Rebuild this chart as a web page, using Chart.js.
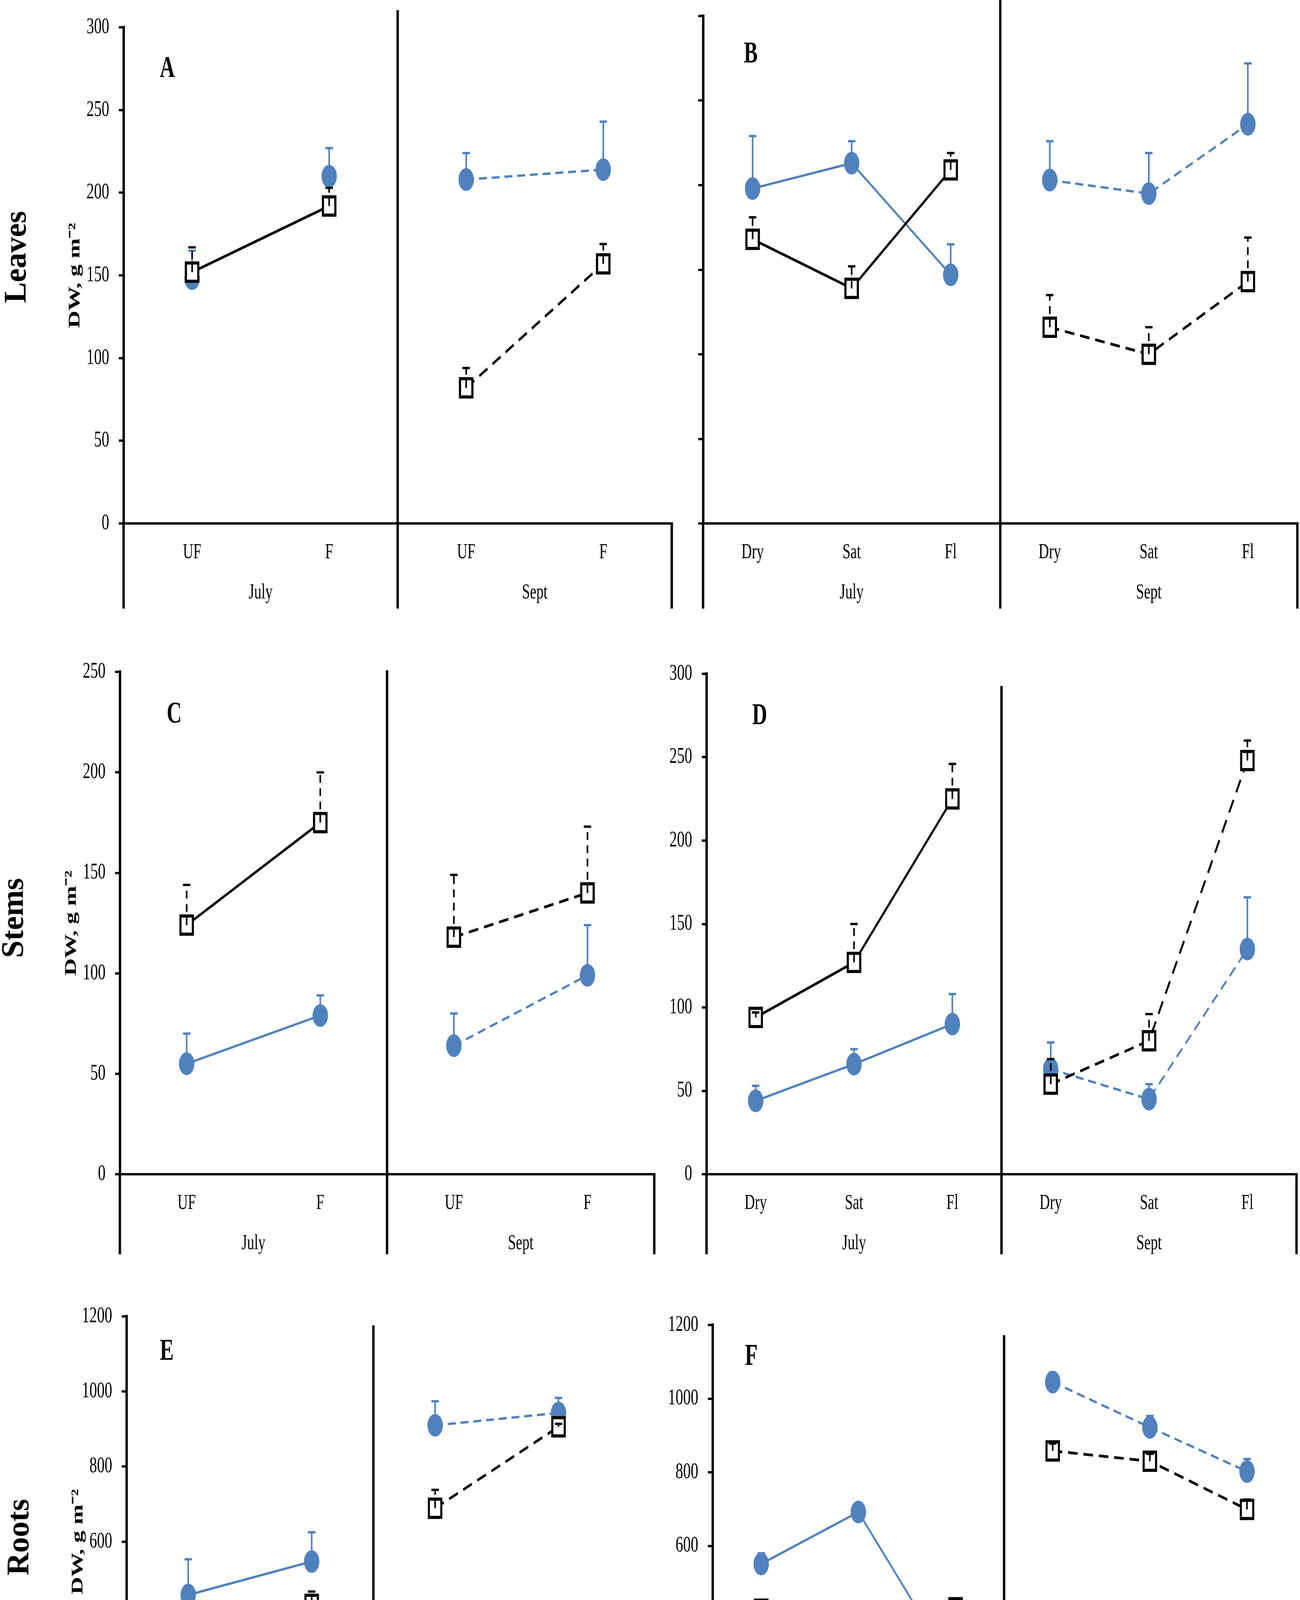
<!DOCTYPE html>
<html>
<head>
<meta charset="utf-8">
<script src="https://cdn.jsdelivr.net/npm/chart.js@4.4.1/dist/chart.umd.min.js"></script>
<style>
  html, body { margin: 0; padding: 0; background: #fff; }
  body { width: 3327px; height: 4801px; position: relative; overflow: hidden; }
  /* the original figure is squeezed horizontally, so draw wide and scale x */
  #squeeze { position: absolute; left: 0; top: 0; width: 4893px; height: 4801px;
             transform: scaleX(0.68); transform-origin: 0 0; }
  .panel { position: absolute; }
  .row-label { position: absolute; font-family: 'Liberation Serif', 'Times New Roman', serif;
               font-weight: bold; font-size: 80px; color: #000; white-space: nowrap;
               transform: translate(-50%, -50%) rotate(-90deg); }
</style>
</head>
<body>
<div id="squeeze"></div>
<div class="row-label" style="left:39px; top:658px;">Leaves</div>
<div class="row-label" style="left:32px; top:2350px;">Stems</div>
<div class="row-label" style="left:46px; top:3935px;">Roots</div>

<script>
// ------------------------------------------------------------
// Data
// ------------------------------------------------------------
const SQ = 0.68;
const BLUE = '#4F81BD';
const SERIF = "'Liberation Serif', 'Times New Roman', serif";

const nutrientCats = ['UF', 'F', 'UF', 'F'];
const waterCats = ['Dry', 'Sat', 'Fl', 'Dry', 'Sat', 'Fl'];
const months = ['July', 'Sept'];

const ticks300 = [0, 50, 100, 150, 200, 250, 300];
const ticks250 = [0, 50, 100, 150, 200, 250];
const ticks1200 = [0, 200, 400, 600, 800, 1000, 1200];

// A - leaves / nutrients
const aCircle = [148, 210, 208, 214];
const aCircleErr = [17, 17, 16, 29];
const aSquare = [152, 192, 82, 157];
const aSquareErr = [15, 11, 12, 12];

// B - leaves / water
const bCircle = [198, 213, 147, 203, 195, 236];
const bCircleErr = [31, 13, 18, 23, 24, 36];
const bSquare = [168, 139, 209, 116, 100, 143];
const bSquareErr = [13, 13, 10, 19, 16, 26];

// C - stems / nutrients
const cCircle = [55, 79, 64, 99];
const cCircleErr = [15, 10, 16, 25];
const cSquare = [124, 175, 118, 140];
const cSquareErr = [20, 25, 31, 33];

// D - stems / water
const dCircle = [44, 66, 90, 63, 45, 135];
const dCircleErr = [9, 9, 18, 16, 9, 31];
const dSquare = [94, 127, 225, 54, 80, 248];
const dSquareErr = [3, 23, 21, 15, 16, 12];

// E - roots / nutrients
const eCircle = [458, 547, 910, 943];
const eCircleErr = [95, 78, 64, 40];
const eSquare = [413, 433, 689, 906];
const eSquareErr = [12, 34, 49, 8];

// F - roots / water
const fCircle = [551, 692, 257, 1045, 922, 802];
const fCircleErr = [29, 8, 3, 26, 31, 34];
const fSquare = [428, 401, 432, 858, 830, 699];
const fSquareErr = [18, 16, 11, 20, 20, 27];

// ------------------------------------------------------------
// Panel layout (page pixels)
// ------------------------------------------------------------
const panels = [
  { cats: nutrientCats, ticks: ticks300, circle: aCircle, circleErr: aCircleErr, square: aSquare, squareErr: aSquareErr,
    tickLabels: true, yTitle: true, julyCircleLine: false,
    deco: { letter: 'A', axisX: 316, rightX: 1719, topY: 41, zeroY: 1340, bottomY: 1558, rowTop: 0, rowBottom: 1600,
            dividerTop: 26, letterDx: 112, letterDy: 107 } },
  { cats: waterCats, ticks: ticks300, circle: bCircle, circleErr: bCircleErr, square: bSquare, squareErr: bSquareErr,
    tickLabels: false, yTitle: false, julyCircleLine: true,
    deco: { letter: 'B', axisX: 1799, rightX: 3320, topY: 41, zeroY: 1340, bottomY: 1558, rowTop: 0, rowBottom: 1600,
            dividerTop: 0, letterDx: 122, letterDy: 99 } },
  { cats: nutrientCats, ticks: ticks250, circle: cCircle, circleErr: cCircleErr, square: cSquare, squareErr: cSquareErr,
    tickLabels: true, yTitle: true, julyCircleLine: true,
    deco: { letter: 'C', axisX: 307, rightX: 1674, topY: 1708, zeroY: 3006, bottomY: 3211, rowTop: 1650, rowBottom: 3250,
            dividerTop: 1716, letterDx: 139, letterDy: 110 } },
  { cats: waterCats, ticks: ticks300, circle: dCircle, circleErr: dCircleErr, square: dSquare, squareErr: dSquareErr,
    tickLabels: true, yTitle: false, julyCircleLine: true,
    deco: { letter: 'D', axisX: 1808, rightX: 3318, topY: 1725, zeroY: 3006, bottomY: 3211, rowTop: 1650, rowBottom: 3250,
            dividerTop: 1756, letterDx: 136, letterDy: 109 } },
  { cats: nutrientCats, ticks: ticks1200, circle: eCircle, circleErr: eCircleErr, square: eSquare, squareErr: eSquareErr,
    tickLabels: true, yTitle: true, julyCircleLine: true,
    deco: { letter: 'E', axisX: 324, rightX: 1587, topY: 3362, zeroY: 4523, bottomY: 4728, rowTop: 3300, rowBottom: 4801,
            dividerTop: 3393, letterDx: 103, letterDy: 91, bottomTitle: 'Month / Nutrients', bottomTitleY: 4777 } },
  { cats: waterCats, ticks: ticks1200, circle: fCircle, circleErr: fCircleErr, square: fSquare, squareErr: fSquareErr,
    tickLabels: true, yTitle: false, julyCircleLine: true,
    deco: { letter: 'F', axisX: 1824, rightX: 3316, topY: 3392, zeroY: 4523, bottomY: 4726, rowTop: 3300, rowBottom: 4801,
            dividerTop: 3418, letterDx: 99, letterDy: 82, bottomTitle: 'Month / Water', bottomTitleY: 4774 } }
];

const WY = 240; // width reserved for the y axis (unsqueezed px)

// keep only one month's half of a series, nulls elsewhere
function monthPart(arr, m) {
  const h = arr.length / 2;
  return arr.map((v, i) => (Math.floor(i / h) === m ? v : null));
}

// ------------------------------------------------------------
// Plugin: error bars, multi-level axis lines, month labels, letters
// ------------------------------------------------------------
const decor = {
  id: 'decor',
  afterDatasetDraw(chart, args) {
    const ds = chart.data.datasets[args.index];
    if (!ds.errors) return;
    const ctx = chart.ctx;
    const y = chart.scales.y;
    ctx.save();
    ctx.strokeStyle = ds.errColor;
    ctx.lineWidth = ds.errWidth;
    args.meta.data.forEach((pt, i) => {
      const v = ds.data[i], e = ds.errors[i];
      if (v == null || e == null) return;
      const top = y.getPixelForValue(v + e);
      ctx.setLineDash(ds.errDash);
      ctx.beginPath();
      ctx.moveTo(pt.x, pt.y);
      ctx.lineTo(pt.x, top);
      ctx.stroke();
      ctx.setLineDash([]);
      ctx.beginPath();
      ctx.moveTo(pt.x - 14, top);
      ctx.lineTo(pt.x + 14, top);
      ctx.stroke();
    });
    ctx.restore();
  },
  afterDraw(chart, args, o) {
    const ctx = chart.ctx;
    const ca = chart.chartArea;
    const x = chart.scales.x;
    const bottom = o.bottomY - o.rowTop;
    const half = x.ticks.length / 2;
    const divX = (x.getPixelForTick(half - 1) + x.getPixelForTick(half)) / 2;

    ctx.save();
    ctx.strokeStyle = '#000';
    ctx.lineWidth = 9;
    ctx.beginPath();
    ctx.moveTo(ca.left, ca.bottom);
    ctx.lineTo(ca.left, bottom);
    ctx.moveTo(ca.right, ca.bottom - 3);
    ctx.lineTo(ca.right, bottom);
    ctx.moveTo(divX, o.dividerTop - o.rowTop);
    ctx.lineTo(divX, bottom);
    ctx.stroke();

    ctx.fillStyle = '#000';
    ctx.textAlign = 'center';
    ctx.textBaseline = 'middle';
    ctx.font = '54px ' + SERIF;
    months.forEach((m, g) => {
      const mx = (x.getPixelForTick(g * half) + x.getPixelForTick(g * half + half - 1)) / 2;
      ctx.fillText(m, mx, ca.bottom + 178);
    });

    ctx.font = 'bold 78px ' + SERIF;
    ctx.fillText(o.letter, ca.left + o.letterDx / SQ, ca.top + o.letterDy);

    if (o.bottomTitle) {
      ctx.font = 'bold 64px ' + SERIF;
      ctx.fillText(o.bottomTitle, divX, o.bottomTitleY - o.rowTop);
    }
    ctx.restore();
  }
};

// ------------------------------------------------------------
// Build charts
// ------------------------------------------------------------
const host = document.getElementById('squeeze');

panels.forEach(p => {
  const d = p.deco;
  const left = d.axisX / SQ - WY;
  const width = d.rightX / SQ + 12 - left;

  const div = document.createElement('div');
  div.className = 'panel';
  div.style.left = left + 'px';
  div.style.top = d.rowTop + 'px';
  div.style.width = width + 'px';
  div.style.height = (d.rowBottom - d.rowTop) + 'px';
  const cv = document.createElement('canvas');
  div.appendChild(cv);
  host.appendChild(div);

  const squareSet = m => ({
    data: monthPart(p.square, m),
    errors: monthPart(p.squareErr, m),
    errColor: '#000', errWidth: 6, errDash: [20, 14],
    borderColor: '#000', borderWidth: 7,
    borderDash: m ? [36, 22] : [],
    pointStyle: 'rect', pointRadius: 33,
    pointBackgroundColor: '#fff', pointBorderColor: '#000', pointBorderWidth: 8,
    spanGaps: false, clip: false
  });
  const circleSet = m => ({
    data: monthPart(p.circle, m),
    errors: monthPart(p.circleErr, m),
    errColor: BLUE, errWidth: 6, errDash: [],
    borderColor: BLUE, borderWidth: 6,
    borderDash: m ? [30, 18] : [],
    showLine: m === 1 || p.julyCircleLine,
    pointStyle: 'circle', pointRadius: 29,
    pointBackgroundColor: BLUE, pointBorderColor: BLUE, pointBorderWidth: 0,
    spanGaps: false, clip: false
  });

  new Chart(cv, {
    type: 'line',
    data: {
      labels: p.cats,
      // index 0 is drawn last, so the squares sit on top of the circles
      datasets: [squareSet(0), squareSet(1), circleSet(0), circleSet(1)]
    },
    options: {
      responsive: true,
      maintainAspectRatio: false,
      animation: false,
      events: [],
      layout: {
        autoPadding: false,
        padding: { top: d.topY - d.rowTop, bottom: d.rowBottom - d.bottomY, left: 0, right: 12 }
      },
      plugins: {
        legend: { display: false },
        tooltip: { enabled: false },
        decor: d
      },
      scales: {
        x: {
          type: 'category',
          offset: true,
          grid: { display: false, drawTicks: false },
          border: { display: true, color: '#000', width: 6 },
          ticks: { color: '#000', font: { family: SERIF, size: 54 }, padding: 42, maxRotation: 0, autoSkip: false },
          afterFit: s => { s.height = d.bottomY - d.zeroY; }
        },
        y: {
          min: p.ticks[0],
          max: p.ticks[p.ticks.length - 1],
          afterBuildTicks: s => { s.ticks = p.ticks.map(v => ({ value: v })); },
          grid: { display: true, drawOnChartArea: false, drawTicks: true, tickLength: 18, lineWidth: 6, color: '#000' },
          border: { display: true, color: '#000', width: 9 },
          ticks: {
            display: p.tickLabels,
            color: '#000',
            font: { family: SERIF, size: 57 },
            padding: 36,
            callback: v => String(v)
          },
          title: {
            display: p.yTitle,
            text: 'DW, g m\u207B\u00B2',
            color: '#000',
            font: { family: SERIF, size: 62, weight: 'bold' },
            padding: { top: 21, bottom: 0 }
          },
          afterFit: s => { s.width = WY; }
        }
      }
    },
    plugins: [decor]
  });
});
</script>
</body>
</html>
